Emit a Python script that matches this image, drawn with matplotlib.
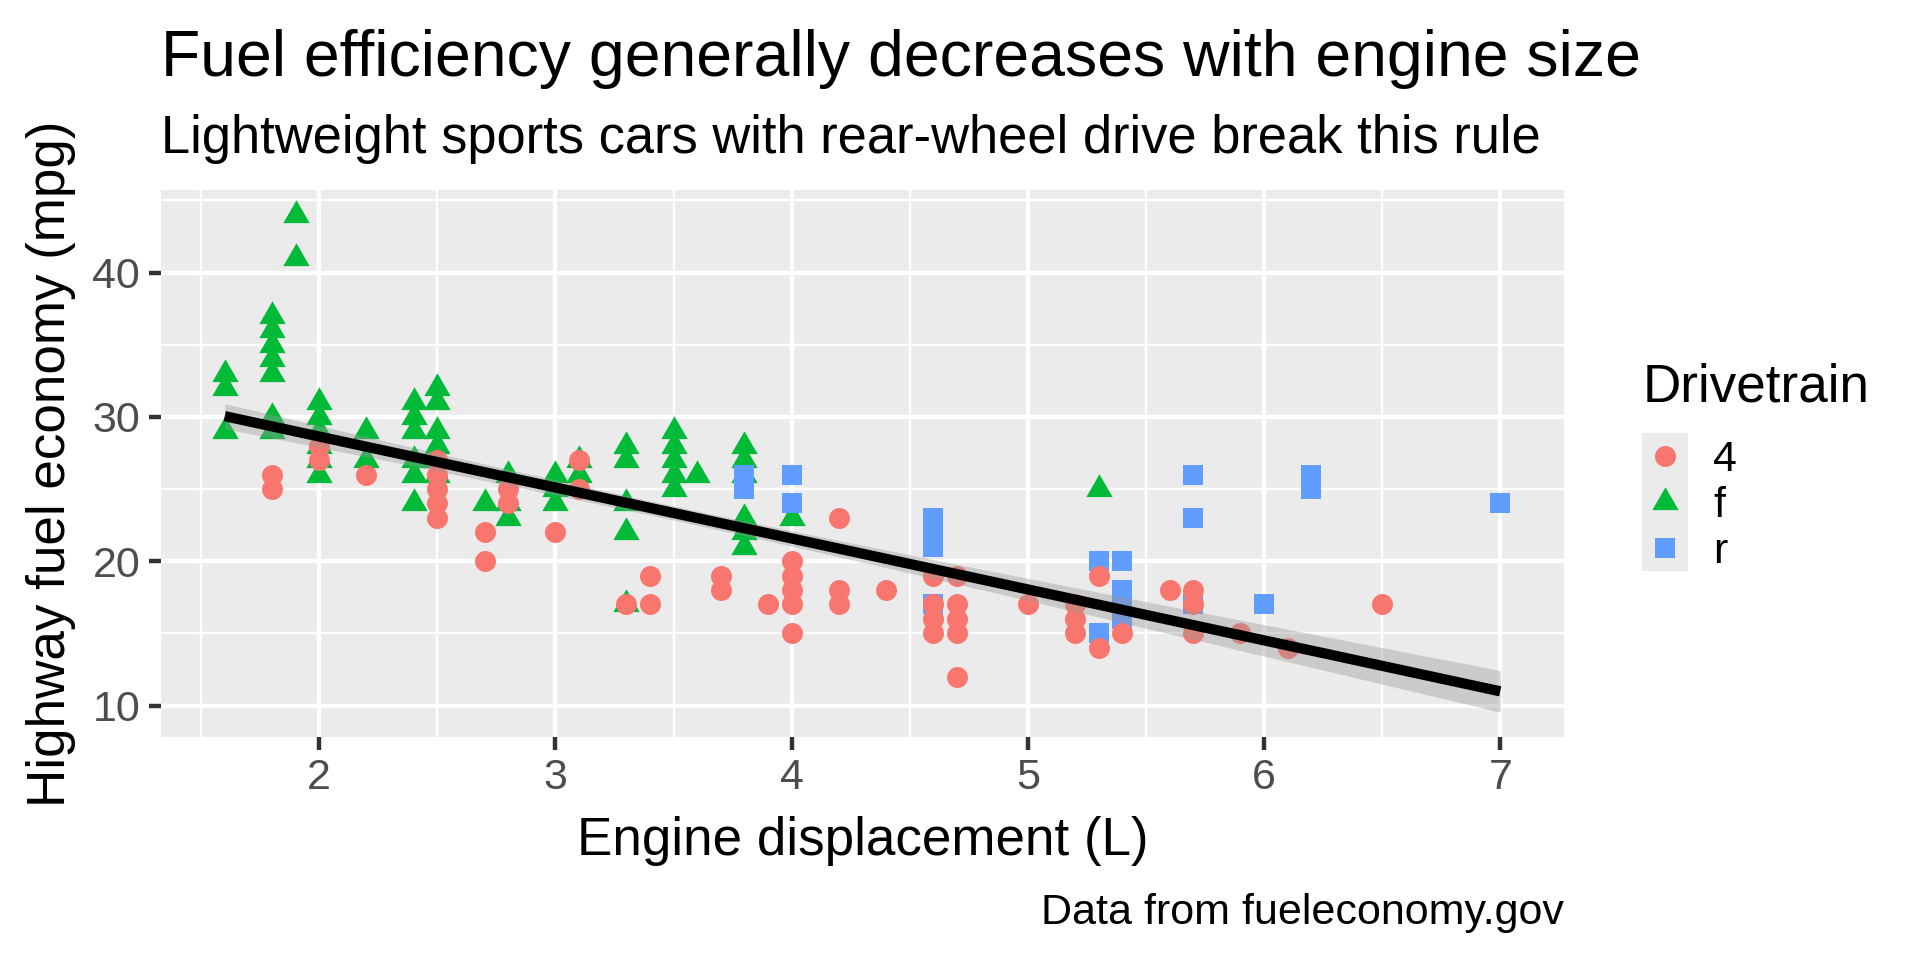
import numpy as np
import matplotlib
matplotlib.use('Agg')
import matplotlib.pyplot as plt

plt.rcParams['font.family'] = ['Liberation Sans', 'DejaVu Sans']

# points: engine displacement (L) and highway mpg, by drivetrain
displ_4 = [1.8, 1.8, 2.0, 2.0, 2.2, 2.5, 2.5, 2.5, 2.5, 2.5, 2.7, 2.7, 2.8, 2.8,
           3.0, 3.1, 3.1, 3.3, 3.4, 3.4, 3.7, 3.7, 3.9, 4.0, 4.0, 4.0, 4.0, 4.0,
           4.2, 4.2, 4.2, 4.4, 4.6, 4.6, 4.6, 4.6, 4.7, 4.7, 4.7, 4.7, 4.7, 5.0,
           5.2, 5.2, 5.2, 5.3, 5.3, 5.4, 5.6, 5.7, 5.7, 5.7, 5.9, 6.1, 6.5]
hwy_4 = [26, 25, 28, 27, 26, 27, 26, 25, 24, 23, 22, 20, 25, 24,
         22, 25, 27, 17, 19, 17, 19, 18, 17, 20, 19, 18, 17, 15,
         23, 18, 17, 18, 19, 17, 16, 15, 19, 17, 16, 15, 12, 17,
         17, 16, 15, 19, 14, 15, 18, 18, 17, 15, 15, 14, 17]

displ_f = [1.6, 1.6, 1.6, 1.8, 1.8, 1.8, 1.8, 1.8, 1.8, 1.8, 1.9, 1.9,
           2.0, 2.0, 2.0, 2.0, 2.0, 2.0, 2.2, 2.2, 2.4, 2.4, 2.4, 2.4, 2.4, 2.4,
           2.5, 2.5, 2.5, 2.5, 2.5, 2.5, 2.7, 2.8, 2.8, 2.8, 3.0, 3.0, 3.0,
           3.1, 3.1, 3.3, 3.3, 3.3, 3.3, 3.3, 3.5, 3.5, 3.5, 3.5, 3.5, 3.6,
           3.8, 3.8, 3.8, 3.8, 3.8, 3.8, 4.0, 5.3]
hwy_f = [33, 32, 29, 37, 36, 35, 34, 33, 30, 29, 44, 41,
         31, 30, 29, 28, 27, 26, 29, 27, 31, 30, 29, 27, 26, 24,
         32, 31, 29, 28, 27, 26, 24, 26, 24, 23, 26, 25, 24,
         27, 26, 28, 27, 24, 22, 17, 29, 28, 27, 26, 25, 26,
         28, 27, 26, 23, 22, 21, 23, 25]

displ_r = [3.8, 3.8, 4.0, 4.0, 4.6, 4.6, 4.6, 4.6, 5.3, 5.3, 5.4, 5.4, 5.4, 5.4,
           5.7, 5.7, 5.7, 6.0, 6.2, 6.2, 7.0]
hwy_r = [26, 25, 26, 24, 23, 22, 21, 17, 20, 15, 20, 18, 17, 16,
         26, 23, 17, 17, 26, 25, 24]

# linear fit shown in the chart (hwy ~ displ) and its standard error terms
fit_intercept = 35.70
fit_slope = -3.531
fit_n = 234
fit_xbar = 3.47
fit_sxx = 388.6
fit_resid_se = 3.84
fit_t = 1.97

drv_levels = ['4', 'f', 'r']
drv_colors = {'4': '#F8766D', 'f': '#00BA38', 'r': '#619CFF'}

title = 'Fuel efficiency generally decreases with engine size'
subtitle = 'Lightweight sports cars with rear-wheel drive break this rule'
xlab = 'Engine displacement (L)'
ylab = 'Highway fuel economy (mpg)'
caption = 'Data from fueleconomy.gov'
legend_title = 'Drivetrain'

W, H = 1920, 960
base = 38.2
small = 31.0
tri = [(0, 0.577), (-0.5, -0.289), (0.5, -0.289)]
drv_markers = {'4': ('o', 228), 'f': (tri, 480), 'r': ('s', 207)}
pts = {'4': (displ_4, hwy_4), 'f': (displ_f, hwy_f), 'r': (displ_r, hwy_r)}

fig = plt.figure(figsize=(19.2, 9.6), dpi=100)
ax = fig.add_axes([161 / W, 1 - 737 / H, (1564 - 161) / W, (737 - 190) / H])
ax.set_facecolor('#EBEBEB')
for s in ax.spines.values():
    s.set_visible(False)

for d in ['f', 'r', '4']:
    m, size = drv_markers[d]
    ax.scatter(pts[d][0], pts[d][1], marker=m, s=size, color=drv_colors[d],
               linewidths=0, zorder=2)

# smooth line with confidence band
all_x = np.concatenate([displ_4, displ_f, displ_r])
all_y = np.concatenate([hwy_4, hwy_f, hwy_r])
xs = np.linspace(all_x.min(), all_x.max(), 80)
yfit = fit_intercept + fit_slope * xs
se = fit_resid_se * np.sqrt(1 / fit_n + (xs - fit_xbar) ** 2 / fit_sxx)
lo, hi = yfit - fit_t * se, yfit + fit_t * se
ax.fill_between(xs, lo, hi, color='#999999', alpha=0.4, lw=0, zorder=3)
ax.plot(xs, yfit, color='black', lw=7.4, zorder=4, solid_capstyle='butt')

x0, x1 = all_x.min(), all_x.max()
y0, y1 = min(all_y.min(), lo.min()), max(all_y.max(), hi.max())
ax.set_xlim(x0 - 0.05 * (x1 - x0), x1 + 0.05 * (x1 - x0))
ax.set_ylim(y0 - 0.05 * (y1 - y0), y1 + 0.05 * (y1 - y0))

ax.set_xticks([2, 3, 4, 5, 6, 7])
ax.set_xticks(np.arange(1.5, 7.0, 1.0), minor=True)
ax.set_yticks([10, 20, 30, 40])
ax.set_yticks([15, 25, 35, 45], minor=True)
ax.set_axisbelow(True)
ax.grid(which='major', color='white', lw=3.1)
ax.grid(which='minor', color='white', lw=1.7)
ax.tick_params(which='minor', length=0)
ax.tick_params(which='major', length=9, width=3.2, color='#333333',
               labelsize=small, labelcolor='#4D4D4D', pad=6)

# titles and labels
fig.text(161 / W, 1 - 76 / H, title, fontsize=46.4, ha='left', va='baseline')
fig.text(161 / W, 1 - 153 / H, subtitle, fontsize=37.8, ha='left', va='baseline')
fig.text(65 / W, 1 - 463.5 / H, ylab, fontsize=base, rotation=90,
         rotation_mode='anchor', ha='center', va='baseline')
fig.text(862.5 / W, 1 - 855 / H, xlab, fontsize=base, ha='center', va='baseline')
fig.text(1564 / W, 1 - 924 / H, caption, fontsize=small, ha='right', va='baseline')

# legend
fig.text(1643 / W, 1 - 402 / H, legend_title, fontsize=base, ha='left', va='baseline')
key_top, key_h, key_left, key_w = 433, 46, 1642, 46
lax = fig.add_axes([key_left / W, 1 - (key_top + 3 * key_h) / H, key_w / W, 3 * key_h / H])
lax.set_facecolor('#EBEBEB')
lax.set_xlim(0, 1)
lax.set_ylim(3, 0)
lax.set_xticks([])
lax.set_yticks([])
for s in lax.spines.values():
    s.set_visible(False)
for i, d in enumerate(drv_levels):
    m, size = drv_markers[d]
    lax.scatter([0.5], [i + 0.5], marker=m, s=size, color=drv_colors[d], linewidths=0)
    fig.text(1713 / W, 1 - (key_top + key_h * (i + 0.5) + 15) / H, d,
             fontsize=small, ha='left', va='baseline')

fig.savefig('out.png', dpi=100)
